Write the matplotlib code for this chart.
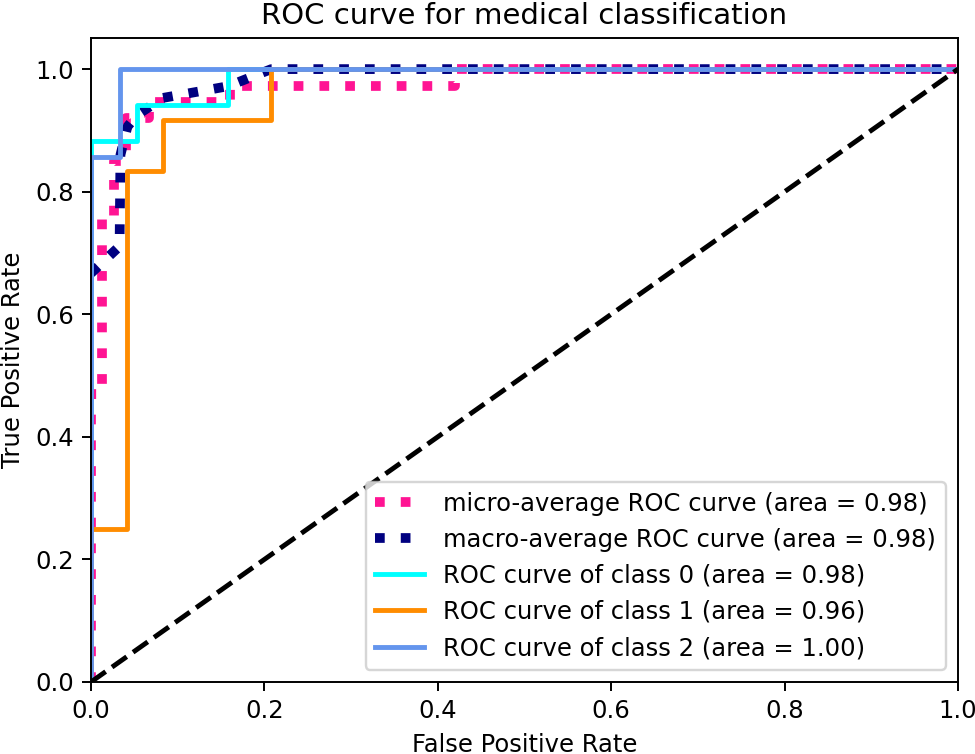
import numpy as np
import matplotlib
matplotlib.use('Agg')
import matplotlib.pyplot as plt

# values
fpr_micro = [0.0, 0.0, 0.013, 0.013, 0.027, 0.027, 0.04, 0.04, 0.067, 0.067,
             0.16, 0.16, 0.42, 0.42, 1.0]
tpr_micro = [0.0, 0.47, 0.47, 0.76, 0.76, 0.85, 0.85, 0.92, 0.92, 0.947,
             0.947, 0.973, 0.973, 1.0, 1.0]

fpr_macro = [0.0, 0.033, 0.034, 0.042, 0.053, 0.083, 0.158, 0.208, 1.0]
tpr_macro = [0.667, 0.711, 0.86, 0.906, 0.925, 0.953, 0.972, 1.0, 1.0]

fpr_class = {
    0: [0.0, 0.0, 0.053, 0.053, 0.158, 0.158, 1.0],
    1: [0.0, 0.0, 0.042, 0.042, 0.083, 0.083, 0.208, 0.208, 1.0],
    2: [0.0, 0.0, 0.033, 0.033, 1.0],
}
tpr_class = {
    0: [0.0, 0.882, 0.882, 0.941, 0.941, 1.0, 1.0],
    1: [0.0, 0.25, 0.25, 0.833, 0.833, 0.917, 0.917, 1.0, 1.0],
    2: [0.0, 0.857, 0.857, 1.0, 1.0],
}
roc_auc = {'micro': 0.98, 'macro': 0.98, 0: 0.98, 1: 0.96, 2: 1.00}

lw = 2
dpi = 175
fig = plt.figure(figsize=(975 / dpi, 754 / dpi), dpi=dpi)
ax = fig.add_axes([0.0933, 0.0955, 0.9826 - 0.0933, 0.949 - 0.0955])

ax.plot(fpr_micro, tpr_micro,
        label='micro-average ROC curve (area = {0:0.2f})'.format(roc_auc['micro']),
        color='deeppink', linestyle=':', linewidth=4)
ax.plot(fpr_macro, tpr_macro,
        label='macro-average ROC curve (area = {0:0.2f})'.format(roc_auc['macro']),
        color='navy', linestyle=':', linewidth=4)

colors = ['aqua', 'darkorange', 'cornflowerblue']
for i, color in zip(range(3), colors):
    ax.plot(fpr_class[i], tpr_class[i], color=color, lw=lw,
            label='ROC curve of class {0} (area = {1:0.2f})'.format(i, roc_auc[i]))

ax.plot([0, 1], [0, 1], 'k--', lw=lw)
ax.set_xlim([0.0, 1.0])
ax.set_ylim([0.0, 1.05])
ax.set_xlabel('False Positive Rate')
ax.set_ylabel('True Positive Rate')
ax.set_title('ROC curve for medical classification')
ax.legend(loc='lower right')
fig.savefig('out.png', dpi=dpi)
